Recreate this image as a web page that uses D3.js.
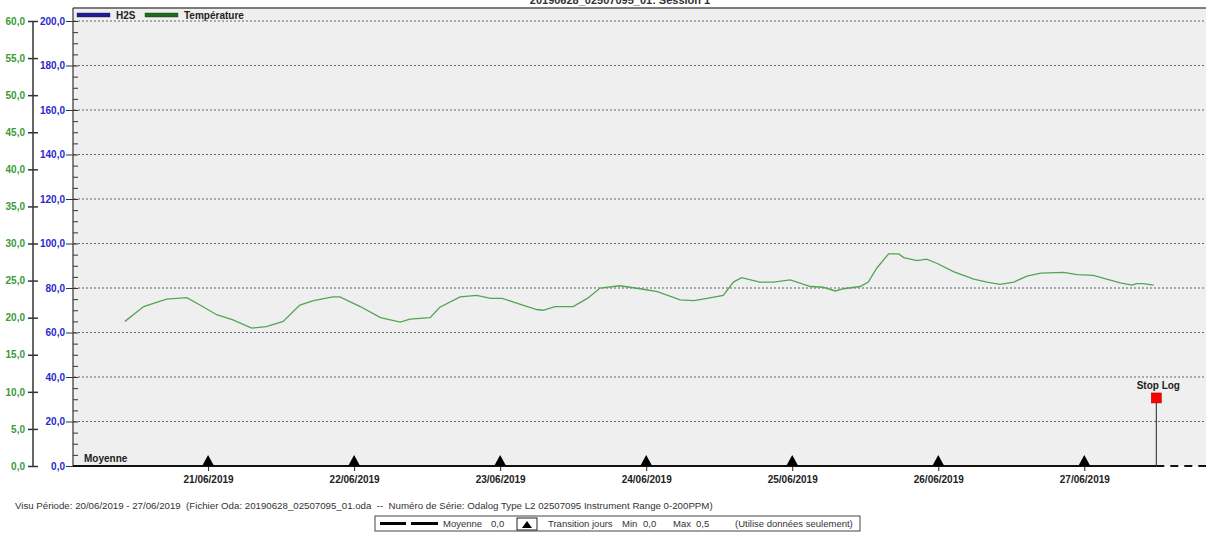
<!DOCTYPE html>
<html>
<head>
<meta charset="utf-8">
<script src="https://cdn.jsdelivr.net/npm/d3@7/dist/d3.min.js"></script>
<style>
	body { margin: 0; background: #ffffff; }
	svg { display: block; font-family: "Liberation Sans", Arial, sans-serif; }
	.pre { white-space: pre; }
</style>
</head>
<body>
<div id="container"></div>
<script>

// temperature readings (time, degrees)
var tempTimes = [
	"2019-06-20 10:20", "2019-06-20 13:25", "2019-06-20 17:10", "2019-06-20 20:30", "2019-06-20 22:40",
	"2019-06-21 01:25", "2019-06-21 04:05", "2019-06-21 07:10", "2019-06-21 09:35", "2019-06-21 12:20",
	"2019-06-21 15:05", "2019-06-21 17:20", "2019-06-21 20:30", "2019-06-21 21:40", "2019-06-22 01:00",
	"2019-06-22 04:20", "2019-06-22 07:35", "2019-06-22 09:10", "2019-06-22 12:30", "2019-06-22 14:05",
	"2019-06-22 17:25", "2019-06-22 20:10", "2019-06-22 22:25", "2019-06-23 00:20", "2019-06-23 03:20",
	"2019-06-23 06:00", "2019-06-23 07:05", "2019-06-23 09:00", "2019-06-23 12:00", "2019-06-23 14:20",
	"2019-06-23 16:25", "2019-06-23 19:40", "2019-06-23 23:00", "2019-06-24 01:50", "2019-06-24 05:35",
	"2019-06-24 07:50", "2019-06-24 10:00", "2019-06-24 12:40", "2019-06-24 14:20", "2019-06-24 15:40",
	"2019-06-24 18:40", "2019-06-24 20:55", "2019-06-24 23:40", "2019-06-25 03:00", "2019-06-25 05:05",
	"2019-06-25 07:05", "2019-06-25 08:25", "2019-06-25 11:10", "2019-06-25 12:30", "2019-06-25 13:55",
	"2019-06-25 15:50", "2019-06-25 17:30", "2019-06-25 18:20", "2019-06-25 20:30", "2019-06-25 22:05",
	"2019-06-25 23:50", "2019-06-26 02:30", "2019-06-26 05:50", "2019-06-26 08:00", "2019-06-26 10:10",
	"2019-06-26 12:25", "2019-06-26 14:35", "2019-06-26 16:50", "2019-06-26 20:35", "2019-06-26 22:50",
	"2019-06-27 01:30", "2019-06-27 03:40", "2019-06-27 05:55", "2019-06-27 07:50", "2019-06-27 08:35",
	"2019-06-27 09:40", "2019-06-27 11:25"
];
var tempValues = [
	19.5, 21.5, 22.5, 22.7, 21.7,
	20.4, 19.7, 18.6, 18.8, 19.5,
	21.7, 22.3, 22.8, 22.8, 21.5,
	20.0, 19.4, 19.8, 20.0, 21.4,
	22.8, 23.0, 22.6, 22.6, 21.8,
	21.1, 21.0, 21.5, 21.5, 22.6,
	24.0, 24.3, 23.9, 23.5, 22.4,
	22.3, 22.6, 23.0, 24.8, 25.4,
	24.8, 24.8, 25.1, 24.2, 24.1,
	23.6, 23.9, 24.2, 24.8, 26.7,
	28.6, 28.6, 28.1, 27.7, 27.9,
	27.3, 26.2, 25.2, 24.8, 24.5,
	24.8, 25.6, 26.0, 26.1, 25.8,
	25.7, 25.2, 24.7, 24.4, 24.6,
	24.6, 24.4
];

// H2S readings (ppm), flat on zero under the time axis
var h2sTimes = ["2019-06-20 10:20", "2019-06-22 12:00", "2019-06-24 12:00", "2019-06-26 12:00", "2019-06-27 11:25"];
var h2sValues = [0.0, 0.0, 0.0, 0.0, 0.0];

// axis ticks and labels
var h2sTicks = [0, 20, 40, 60, 80, 100, 120, 140, 160, 180, 200];
var tempTicks = [0, 5, 10, 15, 20, 25, 30, 35, 40, 45, 50, 55, 60];
var dayTicks = ["2019-06-21 00:00", "2019-06-22 00:00", "2019-06-23 00:00", "2019-06-24 00:00",
	"2019-06-25 00:00", "2019-06-26 00:00", "2019-06-27 00:00"];
var periodStart = "2019-06-20 01:48";
var periodEnd = "2019-06-27 20:00";
var stopLogTime = "2019-06-27 11:50";
var stopLogValue = 8.5; // on the temperature axis

var chartTitle = "20190628_02507095_01: Session 1";
var footerText = "Visu Période: 20/06/2019 - 27/06/2019  (Fichier Oda: 20190628_02507095_01.oda  --  Numéro de Série: Odalog Type L2 02507095 Instrument Range 0-200PPM)";

function load() {

	// define sizes
	var width = 1206, height = 538;
	var plot = { left: 73, right: 1206, top: 8, grid: 21, bottom: 466 };

	var parse = d3.timeParse("%Y-%m-%d %H:%M");
	var comma = function(d) { return d3.format(".1f")(d).replace(".", ","); };

	var svg = d3.select("#container")
		.append("svg")
		.attr("width", width)
		.attr("height", height);

	// define the scales
	var xScale = d3.scaleTime()
		.domain([parse(periodStart), parse(periodEnd)])
		.range([plot.left, plot.right]);

	var yH2S = d3.scaleLinear()
		.domain([0, 200])
		.range([plot.bottom, plot.grid]);

	var yTemp = d3.scaleLinear()
		.domain([0, 60])
		.range([plot.bottom, plot.grid]);

	// plot background
	svg.append("rect")
		.attr("x", plot.left)
		.attr("y", plot.top)
		.attr("width", plot.right - plot.left)
		.attr("height", plot.bottom - plot.top)
		.attr("fill", "#efefef");

	// top border and left edge
	svg.append("line")
		.attr("x1", plot.left).attr("x2", plot.right)
		.attr("y1", plot.top).attr("y2", plot.top)
		.attr("stroke", "#555").attr("stroke-width", 1.5);

	svg.append("line")
		.attr("x1", plot.left).attr("x2", plot.left)
		.attr("y1", plot.top).attr("y2", plot.bottom)
		.attr("stroke", "#333").attr("stroke-width", 1.2);

	// title (cut at the top, as in the source)
	svg.append("text")
		.attr("x", 620)
		.attr("y", 4)
		.attr("text-anchor", "middle")
		.style("font-size", "11px")
		.style("font-weight", "bold")
		.attr("fill", "#333")
		.text(chartTitle);

	// dotted gridlines
	svg.append("g")
		.selectAll("line")
		.data(h2sTicks.filter(function(d) { return d > 0; }))
		.enter().append("line")
			.attr("x1", plot.left + 1)
			.attr("x2", plot.right)
			.attr("y1", function(d) { return yH2S(d); })
			.attr("y2", function(d) { return yH2S(d); })
			.attr("stroke", "#666")
			.attr("stroke-width", 1.2)
			.attr("stroke-dasharray", "2,2");

	// H2S axis (blue, inner)
	var h2sAxis = svg.append("g")
		.attr("transform", "translate(" + plot.left + ",0)")
		.call(d3.axisLeft(yH2S).tickValues(h2sTicks).tickSize(7).tickPadding(1).tickFormat(comma));
	h2sAxis.select(".domain").remove();
	h2sAxis.selectAll("line").attr("stroke", "#333");
	h2sAxis.selectAll("text")
		.attr("fill", "#2a2acc")
		.style("font-size", "10px")
		.style("font-weight", "bold");

	// minor ticks inside the plot
	var minor = svg.append("g")
		.attr("transform", "translate(" + plot.left + ",0)")
		.call(d3.axisRight(yH2S).ticks(40).tickSize(5).tickFormat(""));
	minor.select(".domain").remove();
	minor.selectAll("line").attr("stroke", "#333");

	// temperature axis (green, outer)
	var tempAxis = svg.append("g")
		.attr("transform", "translate(33,0)")
		.call(d3.axisLeft(yTemp).tickValues(tempTicks).tickSize(5).tickPadding(3).tickFormat(comma));
	tempAxis.select(".domain")
		.attr("d", "M0," + yTemp(60) + "V" + yTemp(0))
		.attr("stroke", "#333")
		.attr("stroke-width", 1.5);
	tempAxis.selectAll(".tick line")
		.attr("x1", -5).attr("x2", 5)
		.attr("stroke", "#333")
		.attr("stroke-width", 1.5);
	tempAxis.selectAll("text")
		.attr("fill", "#3a9a3a")
		.style("font-size", "10px")
		.style("font-weight", "bold");

	// H2S line
	var h2sData = h2sTimes.map(function(t, i) { return { date: parse(t), value: h2sValues[i] }; });
	svg.append("path")
		.datum(h2sData)
		.attr("fill", "none")
		.attr("stroke", "#3030c0")
		.attr("stroke-width", 1)
		.attr("d", d3.line()
			.x(function(d) { return xScale(d.date); })
			.y(function(d) { return yH2S(d.value); }));

	// temperature line
	var tempData = tempTimes.map(function(t, i) { return { date: parse(t), value: tempValues[i] }; });
	svg.append("path")
		.datum(tempData)
		.attr("fill", "none")
		.attr("stroke", "#55a355")
		.attr("stroke-width", 1.3)
		.attr("d", d3.line()
			.x(function(d) { return xScale(d.date); })
			.y(function(d) { return yTemp(d.value); }));

	// x axis
	var stopX = xScale(parse(stopLogTime));
	var xAxis = svg.append("g")
		.attr("transform", "translate(0," + plot.bottom + ")")
		.call(d3.axisBottom(xScale)
			.tickValues(dayTicks.map(parse))
			.tickSize(5)
			.tickPadding(5)
			.tickFormat(d3.timeFormat("%d/%m/%Y")));
	xAxis.select(".domain").remove();
	xAxis.selectAll("line").attr("stroke", "#222");
	xAxis.selectAll("text")
		.attr("fill", "#222")
		.style("font-size", "10px")
		.style("font-weight", "bold");

	svg.append("line")
		.attr("x1", plot.left).attr("x2", stopX)
		.attr("y1", plot.bottom).attr("y2", plot.bottom)
		.attr("stroke", "#111").attr("stroke-width", 2);

	svg.append("line")
		.attr("x1", stopX).attr("x2", plot.right)
		.attr("y1", plot.bottom).attr("y2", plot.bottom)
		.attr("stroke", "#111").attr("stroke-width", 2)
		.attr("stroke-dasharray", "8,6");

	// day transition triangles
	svg.append("g")
		.selectAll("path")
		.data(dayTicks.map(parse))
		.enter().append("path")
			.attr("d", function(d) {
				var x = xScale(d);
				return "M" + (x - 6) + "," + plot.bottom + "L" + x + "," + (plot.bottom - 11) + "L" + (x + 6) + "," + plot.bottom + "Z";
			})
			.attr("fill", "#000");

	svg.append("text")
		.attr("x", 84)
		.attr("y", plot.bottom - 4)
		.style("font-size", "10px")
		.style("font-weight", "bold")
		.attr("fill", "#222")
		.text("Moyenne");

	// stop log marker
	var stopY = yTemp(stopLogValue);
	svg.append("line")
		.attr("x1", stopX).attr("x2", stopX)
		.attr("y1", stopY).attr("y2", plot.bottom)
		.attr("stroke", "#222");
	svg.append("rect")
		.attr("x", stopX - 5)
		.attr("y", stopY - 10)
		.attr("width", 10)
		.attr("height", 10)
		.attr("fill", "#ff0000")
		.attr("stroke", "#800")
		.attr("stroke-width", 0.5);
	svg.append("text")
		.attr("x", stopX + 2)
		.attr("y", stopY - 14)
		.attr("text-anchor", "middle")
		.style("font-size", "10px")
		.style("font-weight", "bold")
		.attr("fill", "#222")
		.text("Stop Log");

	// series legend at the top
	var legend = [
		{ name: "H2S", color: "#1c1c9c", x: 77 },
		{ name: "Température", color: "#1c6e1c", x: 145 }
	];
	var lg = svg.append("g").selectAll("g")
		.data(legend)
		.enter().append("g")
			.attr("transform", function(d) { return "translate(" + d.x + ",15)"; });
	lg.append("rect")
		.attr("x", 0).attr("y", -2)
		.attr("width", 33).attr("height", 4)
		.attr("fill", function(d) { return d.color; })
		.attr("stroke", "#222")
		.attr("stroke-width", 0.4);
	lg.append("text")
		.attr("x", 39)
		.attr("y", 4)
		.style("font-size", "10px")
		.style("font-weight", "bold")
		.attr("fill", "#222")
		.text(function(d) { return d.name; });

	// footer
	svg.append("text")
		.attr("class", "pre")
		.attr("x", 15)
		.attr("y", 509)
		.style("font-size", "9.7px")
		.attr("fill", "#333")
		.text(footerText);

	var box = svg.append("g").attr("transform", "translate(375,516)");
	box.append("rect")
		.attr("width", 485).attr("height", 15)
		.attr("fill", "#fff")
		.attr("stroke", "#444");
	box.append("line")
		.attr("x1", 5).attr("x2", 31).attr("y1", 7.5).attr("y2", 7.5)
		.attr("stroke", "#000").attr("stroke-width", 3);
	box.append("line")
		.attr("x1", 36).attr("x2", 63).attr("y1", 7.5).attr("y2", 7.5)
		.attr("stroke", "#000").attr("stroke-width", 3);
	box.append("rect")
		.attr("x", 142).attr("y", 2)
		.attr("width", 20).attr("height", 12)
		.attr("fill", "#fff")
		.attr("stroke", "#222");
	box.append("path")
		.attr("d", "M147,12L152,5L157,12Z")
		.attr("fill", "#000");

	var boxTexts = [
		{ t: "Moyenne", x: 68 }, { t: "0,0", x: 116 },
		{ t: "Transition jours", x: 173 }, { t: "Min", x: 247 }, { t: "0,0", x: 268 },
		{ t: "Max", x: 298 }, { t: "0,5", x: 321 },
		{ t: "(Utilise données seulement)", x: 360 }
	];
	box.selectAll("text.item")
		.data(boxTexts)
		.enter().append("text")
			.attr("x", function(d) { return d.x; })
			.attr("y", 11)
			.style("font-size", "9.5px")
			.attr("fill", "#333")
			.text(function(d) { return d.t; });
}

load();
</script>
</body>
</html>
